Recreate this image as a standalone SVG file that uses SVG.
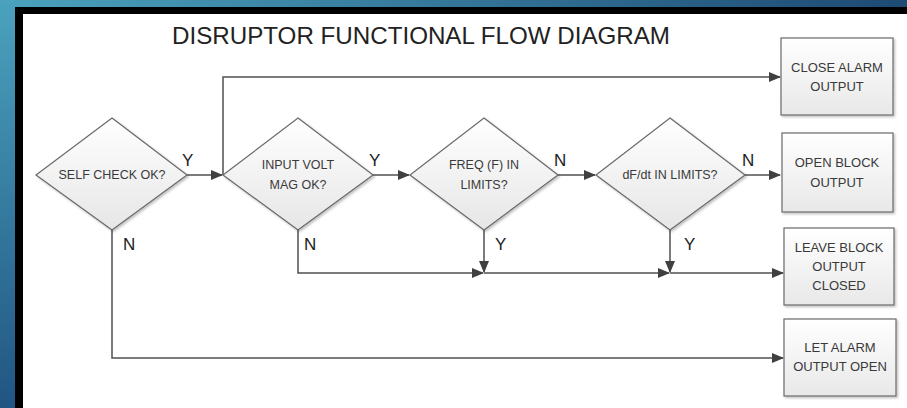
<svg xmlns="http://www.w3.org/2000/svg" width="907" height="408" viewBox="0 0 907 408">
<style>
.title{font-family:"Liberation Sans",Arial,sans-serif;font-size:24px;fill:#222}
.t{font-family:"Liberation Sans",Arial,sans-serif;font-size:12.5px;fill:#3a3a3a;text-anchor:middle}
.bt{font-family:"Liberation Sans",Arial,sans-serif;font-size:13px;fill:#3a3a3a;text-anchor:middle}
.lbl{font-family:"Liberation Sans",Arial,sans-serif;font-size:17px;fill:#222}
.shape{stroke:#6a6a6a;stroke-width:1.2;filter:url(#sh)}
.dia{fill:url(#gd)}
.box{fill:url(#gb)}
.c{fill:none;stroke:#505050;stroke-width:1.5}
</style>
<defs>
<linearGradient id="gtop" x1="0" y1="0" x2="1" y2="0"><stop offset="0" stop-color="#4aa2be"/><stop offset="1" stop-color="#1e4a73"/></linearGradient>
<linearGradient id="gleft" x1="0" y1="0" x2="0" y2="1"><stop offset="0" stop-color="#4aa2be"/><stop offset="1" stop-color="#215583"/></linearGradient>
<linearGradient id="gd" x1="0" y1="0" x2="0" y2="1"><stop offset="0" stop-color="#ffffff"/><stop offset="1" stop-color="#e6e6e6"/></linearGradient>
<linearGradient id="gb" x1="0" y1="0" x2="0" y2="1"><stop offset="0" stop-color="#ffffff"/><stop offset="1" stop-color="#e8e8e8"/></linearGradient>
<filter id="sh" x="-10%" y="-10%" width="130%" height="130%"><feDropShadow dx="1.5" dy="1.5" stdDeviation="1" flood-color="#000" flood-opacity="0.25"/></filter>
<marker id="ah" markerWidth="12" markerHeight="10" refX="11" refY="5" orient="auto" markerUnits="userSpaceOnUse"><path d="M0,0 L12,5 L0,10 Z" fill="#404040"/></marker>
</defs>
<rect x="0" y="0" width="907" height="408" fill="#ffffff"/>
<rect x="0" y="0" width="907" height="7" fill="url(#gtop)"/>
<rect x="0" y="0" width="15" height="408" fill="url(#gleft)"/>
<rect x="15" y="7" width="892" height="7" fill="#000"/>
<rect x="15" y="7" width="8" height="401" fill="#000"/>
<text class="title" x="172" y="44" textLength="498" lengthAdjust="spacingAndGlyphs">DISRUPTOR FUNCTIONAL FLOW DIAGRAM</text>
<g id="connectors">
<path class="c" d="M187,175 H222" marker-end="url(#ah)"/>
<path class="c" d="M223,175 V77 H780" marker-end="url(#ah)"/>
<path class="c" d="M373,175 H409" marker-end="url(#ah)"/>
<path class="c" d="M558,175 H595" marker-end="url(#ah)"/>
<path class="c" d="M745,175 H780" marker-end="url(#ah)"/>
<path class="c" d="M298,230 V273 H483" marker-end="url(#ah)"/>
<path class="c" d="M484,273 H669" marker-end="url(#ah)"/>
<path class="c" d="M670,273 H783" marker-end="url(#ah)"/>
<path class="c" d="M484,230 V272" marker-end="url(#ah)"/>
<path class="c" d="M670,230 V272" marker-end="url(#ah)"/>
<path class="c" d="M112,230 V358 H783" marker-end="url(#ah)"/>
<text class="lbl" x="182" y="166">Y</text>
<text class="lbl" x="123" y="250">N</text>
<text class="lbl" x="369" y="166">Y</text>
<text class="lbl" x="304" y="250">N</text>
<text class="lbl" x="554" y="166">N</text>
<text class="lbl" x="495" y="250">Y</text>
<text class="lbl" x="742" y="166">N</text>
<text class="lbl" x="684" y="250">Y</text>
</g>
<g id="self-check">
<polygon class="shape dia" points="112,118 187,175 112,230 36,175"/>
<text class="t" x="112" y="179">SELF CHECK OK?</text>
</g>
<g id="input-volt">
<polygon class="shape dia" points="298,118 373,175 298,230 223,175"/>
<text class="t" x="298" y="169">INPUT VOLT</text>
<text class="t" x="298" y="189">MAG OK?</text>
</g>
<g id="freq">
<polygon class="shape dia" points="484,118 558,175 484,230 410,175"/>
<text class="t" x="484" y="169">FREQ (F) IN</text>
<text class="t" x="484" y="189">LIMITS?</text>
</g>
<g id="dfdt">
<polygon class="shape dia" points="670,118 745,175 670,230 596,175"/>
<text class="t" x="670" y="179">dF/dt IN LIMITS?</text>
</g>
<g id="close-alarm">
<rect class="shape box" x="781" y="38" width="112" height="77"/>
<text class="bt" x="837" y="72">CLOSE ALARM</text>
<text class="bt" x="837" y="91">OUTPUT</text>
</g>
<g id="open-block">
<rect class="shape box" x="782" y="133" width="111" height="79"/>
<text class="bt" x="837" y="167">OPEN BLOCK</text>
<text class="bt" x="837" y="187">OUTPUT</text>
</g>
<g id="leave-block">
<rect class="shape box" x="784" y="228" width="110" height="77"/>
<text class="bt" x="839" y="252">LEAVE BLOCK</text>
<text class="bt" x="839" y="271">OUTPUT</text>
<text class="bt" x="839" y="290">CLOSED</text>
</g>
<g id="let-alarm">
<rect class="shape box" x="784" y="319" width="112" height="77"/>
<text class="bt" x="840" y="352">LET ALARM</text>
<text class="bt" x="840" y="371">OUTPUT OPEN</text>
</g>
</svg>
